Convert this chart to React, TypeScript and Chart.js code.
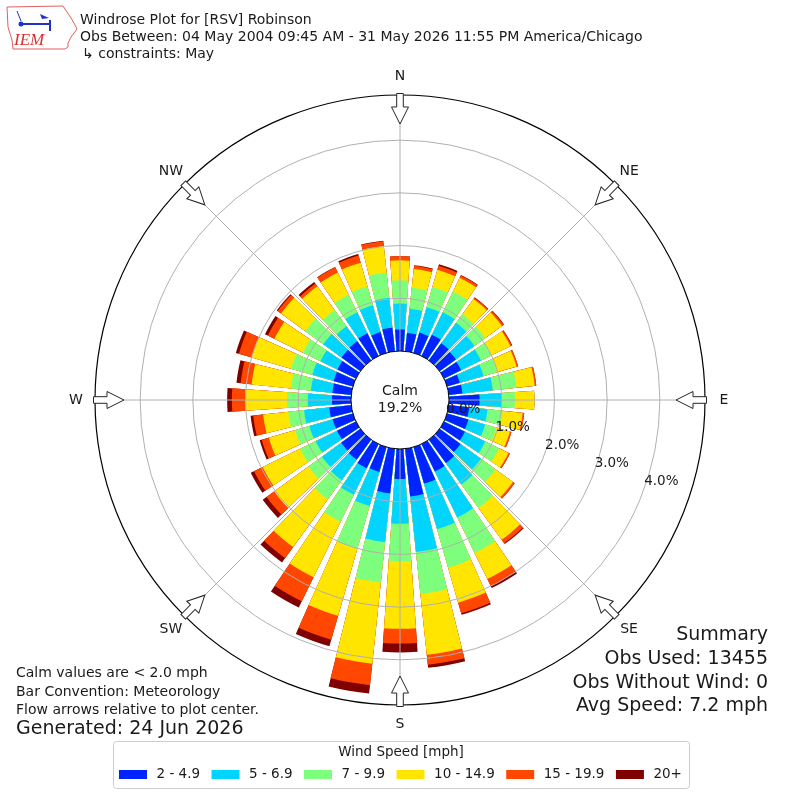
import React, { useEffect, useRef } from 'react';
import { Chart, registerables } from 'chart.js';

Chart.register(...registerables);

// ---------- data ----------
const DIRECTIONS = [10, 20, 30, 40, 50, 60, 70, 80, 90, 100, 110, 120, 130, 140, 150, 160, 170, 180,
  190, 200, 210, 220, 230, 240, 250, 260, 270, 280, 290, 300, 310, 320, 330, 340, 350, 360];

const SPEED_BINS = ['2 - 4.9', '5 - 6.9', '7 - 9.9', '10 - 14.9', '15 - 19.9', '20+'];
const BIN_COLORS = ['#0024ff', '#00d4ff', '#7dff7d', '#ffe500', '#ff4700', '#800000'];

// percent of observations per direction, per speed bin
const BIN_2_5 = [0.35, 0.40, 0.45, 0.40, 0.38, 0.36, 0.25, 0.26, 0.58, 0.39, 0.42, 0.44, 0.49, 0.55, 0.58, 0.72, 0.91, 0.57,
  0.85, 0.49, 0.51, 0.47, 0.45, 0.40, 0.40, 0.42, 0.36, 0.36, 0.38, 0.39, 0.44, 0.45, 0.48, 0.41, 0.45, 0.41];
const BIN_5_7 = [0.46, 0.50, 0.47, 0.48, 0.44, 0.42, 0.47, 0.58, 0.42, 0.35, 0.33, 0.43, 0.48, 0.50, 0.97, 0.90, 1.06, 0.85,
  0.93, 0.67, 0.56, 0.48, 0.45, 0.45, 0.46, 0.48, 0.46, 0.41, 0.42, 0.36, 0.43, 0.35, 0.44, 0.53, 0.57, 0.49];
const BIN_7_10 = [0.40, 0.40, 0.44, 0.20, 0.25, 0.23, 0.27, 0.45, 0.25, 0.29, 0.22, 0.29, 0.34, 0.55, 0.75, 0.76, 0.80, 0.71,
  0.77, 0.85, 0.57, 0.45, 0.32, 0.33, 0.28, 0.30, 0.39, 0.38, 0.42, 0.37, 0.42, 0.38, 0.37, 0.37, 0.48, 0.44];
const BIN_10_15 = [0.36, 0.34, 0.29, 0.36, 0.39, 0.39, 0.38, 0.35, 0.37, 0.38, 0.27, 0.20, 0.41, 0.75, 0.55, 0.69, 1.16, 1.28,
  1.55, 1.32, 1.17, 1.12, 0.80, 0.79, 0.52, 0.48, 0.80, 0.75, 0.78, 0.60, 0.57, 0.56, 0.47, 0.47, 0.51, 0.38];
const BIN_15_20 = [0.06, 0.08, 0.05, 0.03, 0.04, 0.03, 0.03, 0.03, 0.00, 0.03, 0.03, 0.03, 0.04, 0.08, 0.15, 0.21, 0.19, 0.28,
  0.41, 0.47, 0.51, 0.26, 0.18, 0.18, 0.14, 0.19, 0.25, 0.21, 0.25, 0.14, 0.08, 0.06, 0.11, 0.14, 0.09, 0.08];
const BIN_20P = [0.01, 0.03, 0.01, 0.01, 0.01, 0.01, 0.00, 0.00, 0.00, 0.00, 0.00, 0.00, 0.00, 0.02, 0.04, 0.03, 0.06, 0.17,
  0.16, 0.13, 0.13, 0.10, 0.09, 0.07, 0.04, 0.05, 0.09, 0.08, 0.06, 0.06, 0.02, 0.04, 0.01, 0.03, 0.01, 0.00];

const RING_VALUES = [1, 2, 3, 4];
const RING_LABEL_VALUES = [0, 1, 2, 3, 4];
const CALM_PCT = '19.2%';
const COMPASS: [string, number][] = [['N', 0], ['NE', 45], ['E', 90], ['SE', 135], ['S', 180], ['SW', 225], ['W', 270], ['NW', 315]];

const TITLE_LINES = [
  'Windrose Plot for [RSV] Robinson',
  'Obs Between: 04 May 2004 09:45 AM - 31 May 2026 11:55 PM America/Chicago',
  '\u21b3 constraints: May',
];
const SUMMARY_LINES = ['Summary', 'Obs Used: 13455', 'Obs Without Wind: 0', 'Avg Speed: 7.2 mph'];
const NOTE_LINES = ['Calm values are < 2.0 mph', 'Bar Convention: Meteorology', 'Flow arrows relative to plot center.'];
const GENERATED = 'Generated: 24 Jun 2026';
const LEGEND_TITLE = 'Wind Speed [mph]';

// ---------- style constants ----------
const R_MIN = -0.93;
const R_MAX = 4.857;
const BAR_WIDTH_DEG = 8;
const FONT = "'DejaVu Sans', 'Liberation Sans', sans-serif";
const DEG = Math.PI / 180;
const GRID_GRAY = '#b0b0b0';

function pt(cx: number, cy: number, r: number, dirDeg: number) {
  const a = (dirDeg - 90) * DEG;
  return { x: cx + r * Math.cos(a), y: cy + r * Math.sin(a) };
}

const windrosePlugin = {
  id: 'windrose',
  beforeDatasetsDraw(chart: any) {
    const half = (BAR_WIDTH_DEG / 2) * DEG;
    chart.data.datasets.forEach((_: any, di: number) => {
      chart.getDatasetMeta(di).data.forEach((arc: any) => {
        const mid = (arc.startAngle + arc.endAngle) / 2;
        arc.startAngle = mid - half;
        arc.endAngle = mid + half;
      });
    });
  },
  afterDatasetsDraw(chart: any) {
    const ctx = chart.ctx;
    const s = chart.scales.r;
    const r0 = s.getDistanceFromCenterForValue(0);
    const r1 = s.getDistanceFromCenterForValue(R_MAX);
    ctx.save();
    ctx.strokeStyle = GRID_GRAY;
    ctx.lineWidth = 1;
    COMPASS.forEach(([, d]) => {
      const a = pt(s.xCenter, s.yCenter, r0, d);
      const b = pt(s.xCenter, s.yCenter, r1, d);
      ctx.beginPath();
      ctx.moveTo(a.x, a.y);
      ctx.lineTo(b.x, b.y);
      ctx.stroke();
    });
    ctx.restore();
  },
  afterDraw(chart: any) {
    const ctx = chart.ctx as CanvasRenderingContext2D;
    const s = chart.scales.r;
    const cx = s.xCenter;
    const cy = s.yCenter;
    const R = s.getDistanceFromCenterForValue(R_MAX);
    const rCalm = s.getDistanceFromCenterForValue(0);
    ctx.save();

    // calm circle
    ctx.beginPath();
    ctx.arc(cx, cy, rCalm, 0, Math.PI * 2);
    ctx.fillStyle = '#ffffff';
    ctx.fill();
    ctx.strokeStyle = '#000000';
    ctx.lineWidth = 1;
    ctx.stroke();
    ctx.fillStyle = '#1a1a1a';
    ctx.font = `14px ${FONT}`;
    ctx.textAlign = 'center';
    ctx.textBaseline = 'middle';
    ctx.fillText('Calm', cx, cy - 9);
    ctx.fillText(CALM_PCT, cx, cy + 8);

    // ring labels
    ctx.font = `13.5px ${FONT}`;
    ctx.textAlign = 'left';
    RING_LABEL_VALUES.forEach((v) => {
      const r = s.getDistanceFromCenterForValue(v);
      const p = pt(cx, cy, r, 110);
      ctx.fillText(`${v.toFixed(1)}%`, p.x, p.y - 7.5);
    });

    // arrows
    COMPASS.forEach(([, d]) => {
      ctx.save();
      ctx.translate(cx, cy);
      ctx.rotate(d * DEG);
      ctx.beginPath();
      ctx.moveTo(-3.3, -(R + 1.5));
      ctx.lineTo(3.3, -(R + 1.5));
      ctx.lineTo(3.3, -(R - 12));
      ctx.lineTo(8.5, -(R - 12));
      ctx.lineTo(0, -(R - 29));
      ctx.lineTo(-8.5, -(R - 12));
      ctx.lineTo(-3.3, -(R - 12));
      ctx.closePath();
      ctx.fillStyle = '#ffffff';
      ctx.fill();
      ctx.strokeStyle = '#262626';
      ctx.lineWidth = 1;
      ctx.stroke();
      ctx.restore();
    });

    // compass labels
    ctx.fillStyle = '#1a1a1a';
    ctx.font = `14px ${FONT}`;
    ctx.textAlign = 'center';
    ctx.textBaseline = 'middle';
    COMPASS.forEach(([t, d]) => {
      const p = pt(cx, cy, R + 19, d);
      ctx.fillText(t, p.x, p.y);
    });

    // title
    ctx.textAlign = 'left';
    ctx.font = `14px ${FONT}`;
    ctx.fillText(TITLE_LINES[0], 80, 20);
    ctx.fillText(TITLE_LINES[1], 80, 37);
    ctx.fillText(TITLE_LINES[2], 82, 54);

    // summary
    ctx.textAlign = 'right';
    ctx.font = `19px ${FONT}`;
    const sy = [635, 659, 683, 706];
    SUMMARY_LINES.forEach((t, i) => ctx.fillText(t, 768, sy[i]));

    // notes
    ctx.textAlign = 'left';
    ctx.font = `14px ${FONT}`;
    const ny = [673, 692, 710];
    NOTE_LINES.forEach((t, i) => ctx.fillText(t, 16, ny[i]));
    ctx.font = `19px ${FONT}`;
    ctx.fillText(GENERATED, 16, 729);

    // legend box
    ctx.beginPath();
    (ctx as any).roundRect(113.5, 741.5, 576, 47, 3);
    ctx.fillStyle = 'rgba(255,255,255,0.85)';
    ctx.fill();
    ctx.strokeStyle = '#cccccc';
    ctx.lineWidth = 1;
    ctx.stroke();
    ctx.fillStyle = '#1a1a1a';
    ctx.font = `13.5px ${FONT}`;
    ctx.textAlign = 'center';
    ctx.fillText(LEGEND_TITLE, 401, 752);
    ctx.textAlign = 'left';
    let lx = 119;
    SPEED_BINS.forEach((label, k) => {
      ctx.fillStyle = BIN_COLORS[k];
      ctx.fillRect(lx, 770, 28, 9);
      ctx.fillStyle = '#1a1a1a';
      ctx.fillText(label, lx + 37.5, 774.5);
      lx += 37.5 + ctx.measureText(label).width + 11.5;
    });

    // logo
    ctx.beginPath();
    const iowa = [[7, 7], [63, 6], [67, 12], [71, 18], [75, 25], [77, 29], [74, 33], [71, 37], [68, 43], [68, 47], [65, 49], [13, 49], [12, 40], [8, 27]];
    iowa.forEach(([x, y], i) => (i ? ctx.lineTo(x, y) : ctx.moveTo(x, y)));
    ctx.closePath();
    ctx.strokeStyle = '#e06060';
    ctx.lineWidth = 1;
    ctx.stroke();
    ctx.strokeStyle = '#2030c8';
    ctx.fillStyle = '#2030c8';
    ctx.lineWidth = 2;
    ctx.beginPath();
    ctx.moveTo(21, 24); ctx.lineTo(50, 24);
    ctx.moveTo(50, 20); ctx.lineTo(50, 31);
    ctx.stroke();
    ctx.lineWidth = 1;
    ctx.beginPath();
    ctx.moveTo(17, 11); ctx.lineTo(21, 21);
    ctx.stroke();
    ctx.beginPath();
    ctx.arc(21, 24, 2.5, 0, Math.PI * 2);
    ctx.fill();
    ctx.beginPath();
    ctx.moveTo(40, 14); ctx.lineTo(49, 18); ctx.lineTo(42, 19); ctx.closePath();
    ctx.fill();
    ctx.fillStyle = '#d83030';
    ctx.font = `italic 17px 'Liberation Serif', serif`;
    ctx.textBaseline = 'alphabetic';
    ctx.fillText('IEM', 14, 45);

    ctx.restore();
  },
};

export default function App() {
  const ref = useRef<HTMLCanvasElement | null>(null);
  useEffect(() => {
    document.body.style.margin = '0';
    const canvas = ref.current;
    if (!canvas) return;
    const bins = [BIN_2_5, BIN_5_7, BIN_7_10, BIN_10_15, BIN_15_20, BIN_20P];
    const cumulative = bins.map((_, k) =>
      DIRECTIONS.map((__, i) => {
        let sum = 0;
        for (let j = 0; j <= k; j++) sum += bins[j][i];
        return Math.round(sum * 1000) / 1000;
      })
    );
    const datasets = SPEED_BINS.map((label, k) => ({
      label,
      data: cumulative[k],
      backgroundColor: BIN_COLORS[k],
      borderWidth: 0,
    }));
    const chart = new Chart(canvas, {
      type: 'polarArea',
      data: { labels: DIRECTIONS.map(String), datasets },
      options: {
        responsive: false,
        animation: false,
        devicePixelRatio: 1,
        layout: { padding: { left: 95, right: 95, top: 95, bottom: 95 } },
        plugins: { legend: { display: false }, tooltip: { enabled: false }, title: { display: false } },
        elements: { arc: { borderWidth: 0 } },
        scales: {
          r: {
            type: 'radialLinear',
            min: R_MIN,
            max: R_MAX,
            bounds: 'data',
            startAngle: 5,
            beginAtZero: false,
            ticks: { display: false, stepSize: 1 },
            afterBuildTicks: (scale: any) => {
              scale.ticks = [...RING_VALUES, R_MAX].map((v) => ({ value: v }));
            },
            grid: {
              z: 1,
              circular: true,
              color: (c: any) => (c.tick && Math.abs(c.tick.value - R_MAX) < 1e-6 ? '#000000' : GRID_GRAY),
              lineWidth: (c: any) => (c.tick && Math.abs(c.tick.value - R_MAX) < 1e-6 ? 1.2 : 1),
            },
            angleLines: { display: false },
            pointLabels: { display: false },
          },
        },
      } as any,
      plugins: [windrosePlugin],
    });
    return () => chart.destroy();
  }, []);
  return <canvas ref={ref} width={800} height={800} style={{ display: 'block', width: '800px', height: '800px' }} />;
}
